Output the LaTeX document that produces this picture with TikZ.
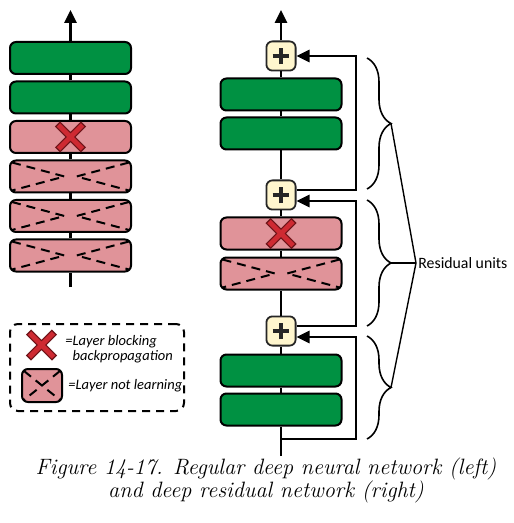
\documentclass[tikz,border=0pt]{standalone}
\usepackage{fontspec}
\usepackage{xcolor}
\usepackage{tikz}
\usetikzlibrary{arrows.meta,positioning,decorations.pathreplacing}
\newfontfamily\labelfont{Carlito}
\definecolor{layergreen}{RGB}{0,145,66}
\definecolor{layerpink}{RGB}{224,147,153}
\definecolor{xred}{RGB}{206,42,50}
\definecolor{xdark}{RGB}{110,20,25}
\definecolor{addfill}{RGB}{255,246,206}
\tikzstyle{layer}=[draw, line width=1pt, rounded corners=3pt,
  minimum width=60.5pt, minimum height=16pt, inner sep=0pt]
\tikzstyle{trained}=[layer, fill=layergreen]
\tikzstyle{frozen}=[layer, fill=layerpink]
\tikzstyle{adder}=[draw=black!85, line width=0.9pt, fill=addfill,
  rounded corners=3pt, minimum size=14.6pt, inner sep=0pt,
  path picture={\draw [line width=2.1pt]
    ([xshift=-4.2pt]path picture bounding box.center) --
    ([xshift=4.2pt]path picture bounding box.center)
    ([yshift=-4.2pt]path picture bounding box.center) --
    ([yshift=4.2pt]path picture bounding box.center);}]
\tikzstyle{wire} = [draw, line width=1.3pt]
\tikzstyle{flow} = [wire, -{Triangle[length=6.5pt,width=6pt]}]
\tikzstyle{unitbrace} = [draw, line width=0.8pt, decorate,
  decoration={brace, amplitude=12pt}]
\tikzstyle{pointer} = [draw, line width=0.7pt]
\tikzstyle{xedge} = [draw=xdark, line width=3.6pt]
\tikzstyle{xfill} = [draw=xred, line width=2.4pt]
\tikzstyle{stuck} = [draw, line width=1pt, dash pattern=on 4.5pt off 3pt]
\tikzstyle{legendbox} = [draw, line width=1pt, dash pattern=on 4pt off 3pt,
  rounded corners=4pt, minimum width=87pt, minimum height=43.5pt]
\tikzstyle{texto} = [font=\labelfont\itshape\fontsize{7.25}{7.5}\selectfont,
  align=left, inner sep=0pt]
\newcommand{\layer}[2]{node (#1) [#2] {}}
\newcommand{\blocked}[1]{%
  \draw [xedge] ([shift={(-6.5pt,6.5pt)}]#1.center) -- ([shift={(6.5pt,-6.5pt)}]#1.center)
    ([shift={(-6.5pt,-6.5pt)}]#1.center) -- ([shift={(6.5pt,6.5pt)}]#1.center);
  \draw [xfill] ([shift={(-6pt,6pt)}]#1.center) -- ([shift={(6pt,-6pt)}]#1.center)
    ([shift={(-6pt,-6pt)}]#1.center) -- ([shift={(6pt,6pt)}]#1.center);}
\newcommand{\notlearning}[2]{%
  \draw [stuck] ([shift={(1.5pt,-1.5pt)}]#1.north west) -- ([xshift=-#2]#1.center)
    -- ([shift={(1.5pt,1.5pt)}]#1.south west)
    ([shift={(-1.5pt,-1.5pt)}]#1.north east) -- ([xshift=#2]#1.center)
    -- ([shift={(-1.5pt,1.5pt)}]#1.south east);}

\begin{document}
\begin{tikzpicture}[x=0.5pt,y=0.5pt]
\useasboundingbox (0,0) rectangle (513,-523);

  % Regular deep network (left)
\path (70.5,-58) \layer{l1}{trained};
\node (l2) [trained, below=2.75pt of l1] {};
\node (l3) [frozen, below=2.75pt of l2] {};
\node (l4) [frozen, below=2.75pt of l3] {};
\node (l5) [frozen, below=2.75pt of l4] {};
\node (l6) [frozen, below=2.75pt of l5] {};
\coordinate (lin) at (70.5,-287);
\coordinate (lout) at (70.5,-10);

\path [wire] (lin) -- (l6) (l6) -- (l5) (l5) -- (l4) (l4) -- (l3)
  (l3) -- (l2) (l2) -- (l1);
\path [flow] (l1) -- (lout);
\blocked{l3}
\notlearning{l4}{3pt}
\notlearning{l5}{3pt}
\notlearning{l6}{3pt}

  % Residual network (right)
\node (s1) [adder] at (281,-56) {};
\node (r1) [trained, below=3pt of s1] {};
\node (r2) [trained, below=2.5pt of r1] {};
\node (s2) [adder, below=14.5pt of r2] {};
\node (r3) [frozen, below=3pt of s2] {};
\node (r4) [frozen, below=3pt of r3] {};
\node (s3) [adder, below=12.5pt of r4] {};
\node (r5) [trained, below=3.5pt of s3] {};
\node (r6) [trained, below=2.5pt of r5] {};
\coordinate (rin) at (281,-456);
\coordinate (b1) at (281,-439);
\coordinate (rout) at (281,-10);

\path [wire] (rin) -- (r6) (r6) -- (r5) (r5) -- (s3) (s3) -- (r4)
  (r4) -- (r3) (r3) -- (s2) (s2) -- (r2) (r2) -- (r1) (r1) -- (s1);
\path [flow] (s1) -- (rout);
\blocked{r3}
\notlearning{r4}{3pt}

  % Skip connections
\path [flow] (b1) -- ++(75,0) |- ([yshift=-3pt]s3.east);
\path [flow] ([yshift=2.5pt]s3.east) -- ++(59.5,0) |- ([yshift=-3pt]s2.east);
\path [flow] ([yshift=2.5pt]s2.east) -- ++(59.5,0) |- (s1.east);

  % Residual units
\coordinate (t1) at (391,-123.5);
\coordinate (t2) at (391,-263);
\coordinate (t3) at (391,-387.5);
\path [unitbrace] (367,-58) -- (367,-189);
\path [unitbrace] (367,-200) -- (367,-326);
\path [unitbrace] (367,-336) -- (367,-439);
\node (res) [anchor=west, inner sep=1pt,
  font=\labelfont\fontsize{7.9}{9}\selectfont] at (416,-263) {Residual units};
\path [pointer] (t1) -- (res.west);
\path [pointer] (t2) -- (res.west);
\path [pointer] (t3) -- (res.west);

  % Legend
\node (leg) [legendbox] at (97,-367.5) {};
\coordinate (bx) at (41.5,-345);
\blocked{bx}
\node (kx) [texto, anchor=west] at (65,-349.5)
  {=Layer blocking\\\phantom{=}backpropagation};
\node (kl) [frozen, minimum width=20pt, minimum height=16.5pt] at (42,-385.5) {};
\notlearning{kl}{0pt}
\node (kt) [texto, anchor=west] at (68,-386) {=Layer not learning};

  % Caption
\node (cap) [align=center, font=\itshape\fontsize{11.1}{11.5}\selectfont]
  at (266,-480) {Figure 14-17. Regular deep neural network (left)\\
  and deep residual network (right)};
\end{tikzpicture}
\end{document}
